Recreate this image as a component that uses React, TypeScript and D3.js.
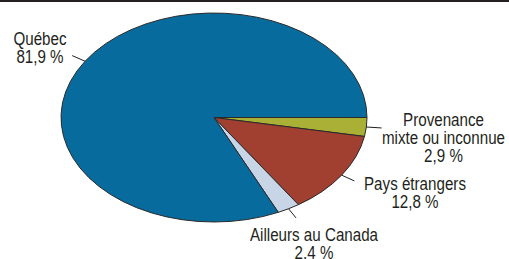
import React, { useEffect, useRef } from "react";
import { select, pie, arc, PieArcDatum } from "d3";

// shares of origin, in %
const categories = ["Provenance mixte ou inconnue", "Pays étrangers", "Ailleurs au Canada", "Québec"];
const values = [2.9, 12.8, 2.4, 81.9];
const valueLabels = ["2,9 %", "12,8 %", "2,4 %", "81,9 %"];
const labelLines = [
  ["Provenance", "mixte ou inconnue", "2,9 %"],
  ["Pays étrangers", "12,8 %"],
  ["Ailleurs au Canada", "2,4 %"],
  ["Québec", "81,9 %"],
];
const colors = ["#a9b035", "#a13f30", "#c8d5e7", "#086b9d"];

const width = 509;
const height = 259;
const font = "'Liberation Sans', Arial, sans-serif";
const ink = "#231f20";

function App() {
  const svgRef = useRef<SVGSVGElement>(null);

  useEffect(() => {
    const svg = select(svgRef.current);
    svg.selectAll("*").remove();

    const cx = 214;
    const cy = 117.5;
    const rx = 153;
    const ry = 104.5;

    // top rule
    svg.append("rect")
      .attr("x", 0).attr("y", 0)
      .attr("width", width).attr("height", 2)
      .attr("fill", ink);

    const data = values.map((v, i) => ({ name: categories[i], value: v, i }));
    type D = typeof data[number];

    const pieGen = pie<D>()
      .sort(null)
      .value(d => d.value)
      .startAngle(Math.PI / 2)
      .endAngle(Math.PI / 2 + 2 * Math.PI);

    const arcs = pieGen(data);
    const arcGen = arc<PieArcDatum<D>>().innerRadius(0).outerRadius(rx);

    //pie drawn round and squashed into an ellipse
    svg.append("g")
      .attr("transform", `translate(${cx},${cy}) scale(1,${ry / rx})`)
      .selectAll("path")
      .data(arcs)
      .join("path")
      .attr("d", arcGen)
      .attr("fill", d => colors[d.data.i])
      .attr("stroke", "#2a2a2a")
      .attr("stroke-width", 1)
      .attr("stroke-linejoin", "round")
      .attr("vector-effect", "non-scaling-stroke");

    // leader lines
    const point = (a: number, k: number) => [cx + rx * k * Math.sin(a), cy - ry * k * Math.cos(a)];
    svg.append("g")
      .selectAll("line")
      .data(arcs)
      .join("line")
      .each(function (d) {
        const mid = (d.startAngle + d.endAngle) / 2;
        const [x1, y1] = point(mid, 1);
        const [x2, y2] = point(mid, 1.1);
        select(this).attr("x1", x1).attr("y1", y1).attr("x2", x2).attr("y2", y2);
      })
      .attr("stroke", ink)
      .attr("stroke-width", 1);

    // label anchors (x centre, first baseline)
    const labelPos = [
      [443.5, 125.5],
      [415, 189.5],
      [314, 240.5],
      [40, 45],
    ];
    const lineHeight = 18.5;

    // condensed look: regular sans squeezed horizontally
    const labels = svg.append("g")
      .attr("font-family", font)
      .attr("font-size", 18.5)
      .attr("fill", ink)
      .attr("text-anchor", "middle");

    labelLines.forEach((lines, i) => {
      const t = labels.append("g")
        .attr("transform", `translate(${labelPos[i][0]},${labelPos[i][1]}) scale(0.82,1)`)
        .append("text")
        .attr("x", 0)
        .attr("y", 0)
        .attr("aria-label", `${categories[i]} ${valueLabels[i]}`);
      lines.forEach((l, j) => {
        t.append("tspan")
          .attr("x", 0)
          .attr("dy", j === 0 ? 0 : lineHeight)
          .text(l);
      });
    });
  }, []);

  return (
    <svg
      ref={svgRef}
      width={width}
      height={height}
      style={{ position: "absolute", left: 0, top: 0, background: "#fff" }}
    />
  );
}

export default App;
